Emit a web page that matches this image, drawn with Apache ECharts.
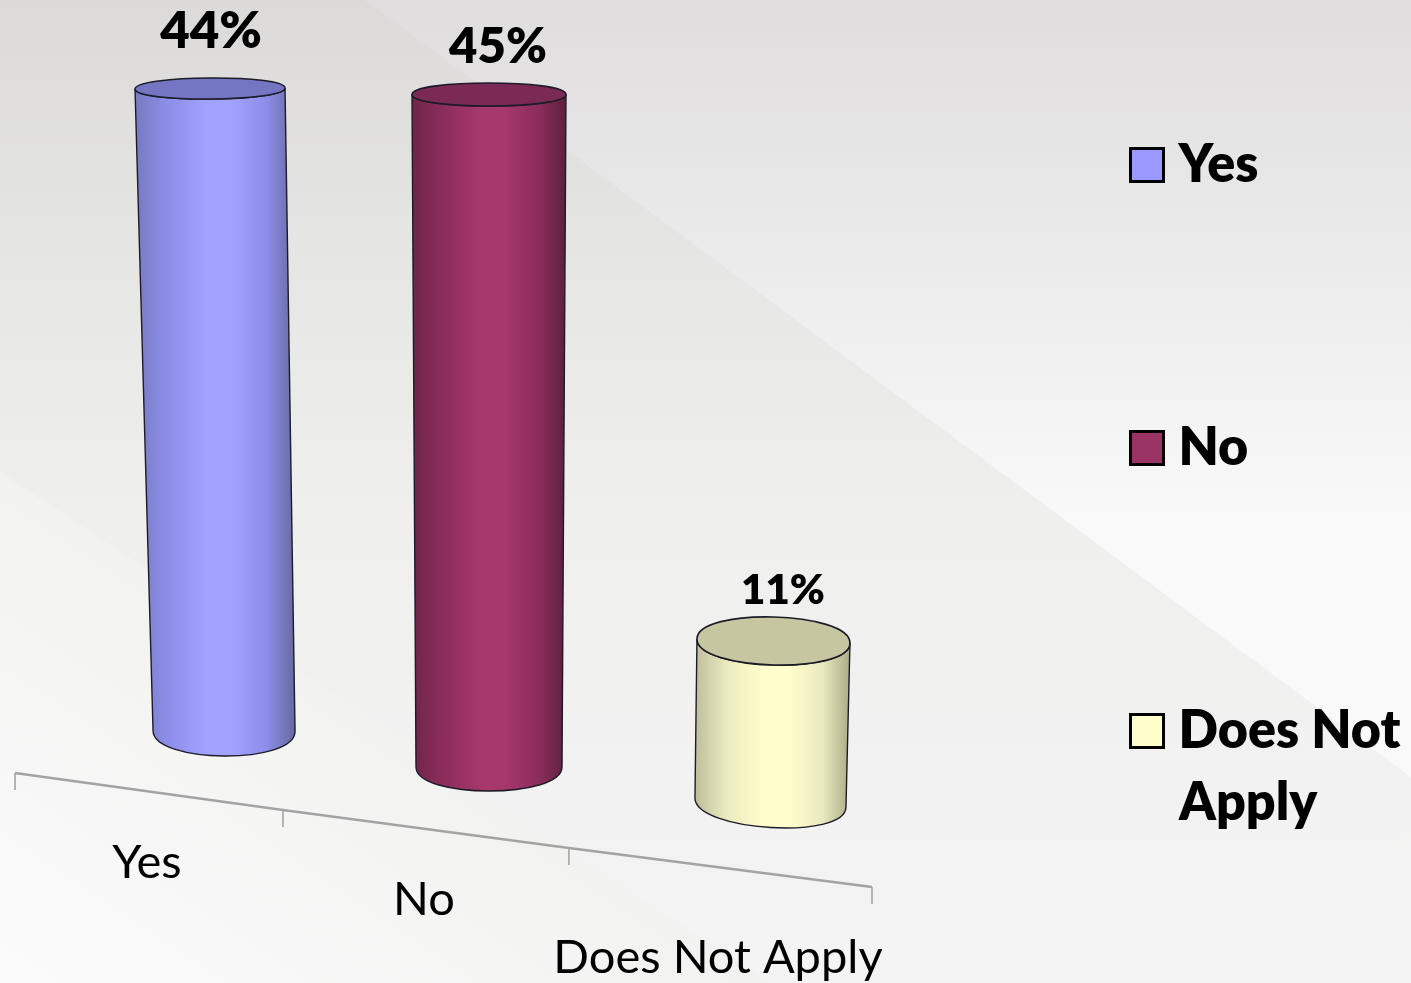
<!DOCTYPE html>
<html><head><meta charset="utf-8">
<style>html,body{margin:0;padding:0;background:#f7f7f7}#c{width:1411px;height:983px}</style>
<script src="https://cdn.jsdelivr.net/npm/echarts@6/dist/echarts.min.js"></script>
</head><body><div id="c"></div>
<script>
// ---- chart data ----
const categories = ['Yes', 'No', 'Does Not Apply'];
const percentValues = [44, 45, 11];
const barColors = ['#9999ff', '#993366', '#ffffcc'];

// ---- perspective look of the original 3-D chart (screen offsets, px) ----
const floorDx = [66.2, 45.5, 41.3], floorDy = [-69, -33, 2.5];
const depthScale = [0.9933, 1.0166, 0.9987];
const topDx = [-14, 0, 3];
const topRx = [75, 77, 76.5], topRy = [10.5, 11.5, 24], topTilt = [-0.5, 0, 2];
const botRx = [71, 73, 75.5], botRy = [25, 24, 25], botTilt = [0.5, 0, 4.5];
const leftEdge = ['#7779bf', '#6e2549', '#bcbc9a'];
const rightEdge = ['#66689f', '#5c1f3e', '#a9a984'];
const midShade = ['#8c8de8', '#8b2d5a', '#eaeabf'];
const highlight = ['#a2a2ff', '#a6386c', '#ffffcc'];
const capFill = ['#7476c4', '#7a2a54', '#c6c6a0'];
const valueLabelDx = [1, 9, 9.5], valueLabelDy = [-57, -47.5, -51], valueLabelSize = [51, 49, 42];
const tickDx = [0, -17.7, -17.4, 0], tickDy = [-27, 10, 48, 87];
const catLabelX = [147, 424, 718], catLabelY = [863, 900, 958];
const FONT = 'Lato';

function halfEllipse(x1, y1, x2, y2, ry, sign) {
  const k = sign * ry * 4 / 3;
  return 'C' + x1 + ' ' + (y1 + k) + ' ' + x2 + ' ' + (y2 + k) + ' ' + x2 + ' ' + y2;
}
function cylinder(i) {
  return function (params, api) {
    const base = api.coord([i, 0]), head = api.coord([i, api.value(1)]);
    const bx = base[0] + floorDx[i], by = base[1] + floorDy[i];
    const tx = bx + topDx[i], ty = by - (base[1] - head[1]) * depthScale[i];
    const tl = [tx - topRx[i], ty - topTilt[i]], tr = [tx + topRx[i], ty + topTilt[i]];
    const bl = [bx - botRx[i], by - botTilt[i]], br = [bx + botRx[i], by + botTilt[i]];
    const body = 'M' + tl.join(' ') + 'L' + bl.join(' ') +
      halfEllipse(bl[0], bl[1], br[0], br[1], botRy[i], 1) + 'L' + tr.join(' ') +
      halfEllipse(tr[0], tr[1], tl[0], tl[1], topRy[i], 1) + 'Z';
    const cap = 'M' + tl.join(' ') + halfEllipse(tl[0], tl[1], tr[0], tr[1], topRy[i], -1) +
      halfEllipse(tr[0], tr[1], tl[0], tl[1], topRy[i], 1) + 'Z';
    const fill = new echarts.graphic.LinearGradient(0, 0, 1, 0, [
      { offset: 0, color: leftEdge[i] }, { offset: 0.2, color: midShade[i] },
      { offset: 0.45, color: highlight[i] }, { offset: 0.6, color: highlight[i] },
      { offset: 0.82, color: midShade[i] }, { offset: 1, color: rightEdge[i] }]);
    const line = '#1c1c28';
    return { type: 'group', children: [
      { type: 'path', shape: { pathData: body }, style: { fill: fill, stroke: line, lineWidth: 1.4 } },
      { type: 'path', shape: { pathData: cap }, style: { fill: capFill[i], stroke: line, lineWidth: 1.6 } },
      { type: 'text', x: tx + valueLabelDx[i], y: ty + valueLabelDy[i], style: {
        text: api.value(1) + '%', font: '800 ' + valueLabelSize[i] + 'px ' + FONT, fill: '#000', align: 'center', verticalAlign: 'middle' } }
    ] };
  };
}
function slantedAxis(params, api) {
  const bw = api.size([1, 0])[0];
  const pts = tickDx.map((d, k) => {
    const p = k === 0 ? api.coord([0, 0]) : api.coord([k - 1, 0]);
    const edge = p[0] + (k === 0 ? -bw / 2 : bw / 2);
    return [edge + d, p[1] + tickDy[k]];
  });
  const kids = [{ type: 'polyline', shape: { points: pts }, style: { fill: 'none', stroke: '#a3a3a3', lineWidth: 2.6 } }];
  pts.forEach(p => kids.push({ type: 'line', shape: { x1: p[0], y1: p[1], x2: p[0], y2: p[1] + 17 }, style: { stroke: '#a3a3a3', lineWidth: 1.6 } }));
  categories.forEach((c, k) => kids.push({ type: 'text', x: catLabelX[k], y: catLabelY[k], style: {
    text: c, font: '400 47px ' + FONT, fill: '#000', align: 'center', verticalAlign: 'middle' } }));
  return { type: 'group', children: kids };
}
const bg = (pts, stops, z) => ({ type: 'polygon', silent: true, z: z, shape: { points: pts }, style: {
  fill: new echarts.graphic.LinearGradient(stops[0], stops[1], stops[2], stops[3], stops[4], true) } });

const chart = echarts.init(document.getElementById('c'), null, { renderer: 'canvas' });
chart.setOption({
  animation: false,
  graphic: { elements: [
    bg([[0,0],[1411,0],[1411,983],[0,983]], [0,0,0,520,[{offset:0,color:'#dfdddd'},{offset:1,color:'#f9f9f9'}]], -10),
    bg([[0,0],[365,0],[1411,777],[1411,983],[0,983]], [0,0,0,983,[{offset:0,color:'#dbdad8'},{offset:0.3,color:'#e7e7e5'},{offset:0.52,color:'#efefee'},{offset:1,color:'#f4f4f4'}]], -9),
    bg([[0,472],[770,983],[0,983]], [385,727,130,1112,[{offset:0,color:'#f2f2f1'},{offset:1,color:'#fcfcfc'}]], -8),
    { type: 'line', silent: true, z: -7, shape: { x1: 1411, y1: 835, x2: 1211, y2: 980 }, style: { stroke: '#f6f6ee', lineWidth: 1 } },
    { type: 'text', left: 1179, top: 777, z: 5, style: { text: 'Apply', font: '800 52px ' + FONT, fill: '#000' } }
  ] },
  grid: { left: 15, width: 857, top: 65, height: 735 },
  xAxis: { type: 'category', data: categories, show: false },
  yAxis: { type: 'value', min: 0, max: 50, interval: 10, show: false },
  legend: {
    orient: 'vertical', left: 1129, top: 139, itemWidth: 33, itemHeight: 33, itemGap: 231,
    icon: 'rect', selectedMode: false, padding: 0,
    itemStyle: { borderColor: '#000', borderWidth: 3 },
    formatter: n => n === 'Does Not Apply' ? 'Does Not' : n,
    textStyle: { fontFamily: FONT, fontWeight: 800, fontSize: 52, color: '#000', padding: [0, 0, 0, 10] },
    data: categories
  },
  series: [
    { type: 'custom', name: '__axis', coordinateSystem: 'cartesian2d', silent: true, renderItem: slantedAxis, data: [[0, 0]] }
  ].concat(categories.map((c, i) => ({
    type: 'custom', name: c, coordinateSystem: 'cartesian2d', silent: true,
    itemStyle: { color: barColors[i] }, renderItem: cylinder(i), data: [[i, percentValues[i]]], z: 3
  })))
});
</script></body></html>
